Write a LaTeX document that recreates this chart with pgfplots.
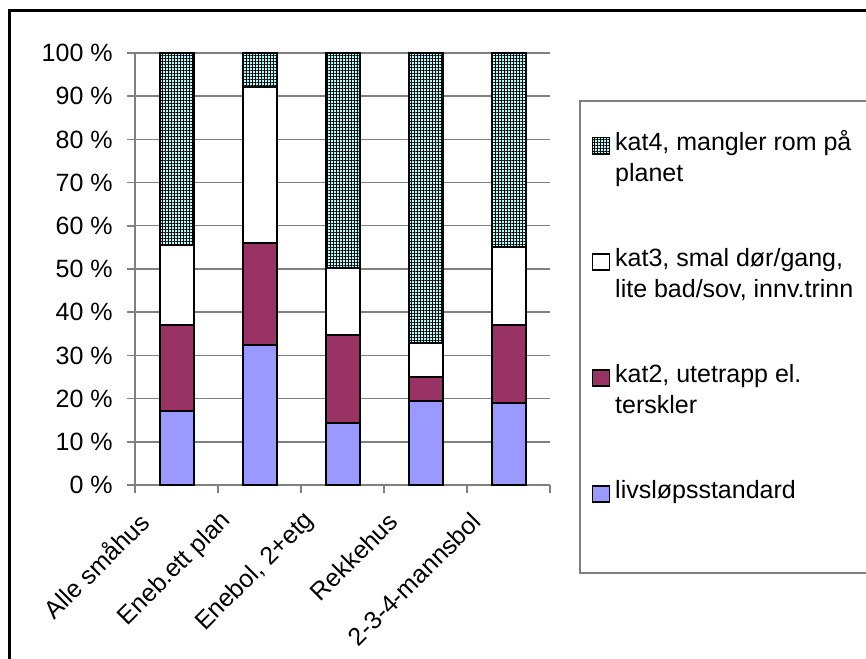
\documentclass[border=0pt]{standalone}
\usepackage{pgfplots}
\pgfplotsset{compat=1.18}
\usepackage{fontspec}
\setmainfont{Liberation Sans}
\usetikzlibrary{patterns.meta}

\definecolor{livs}{RGB}{153,153,255}
\definecolor{kattwo}{RGB}{153,51,102}
\definecolor{katfour}{RGB}{175,255,255}
\definecolor{gridgray}{RGB}{128,128,128}

% 1 px of the reference = 0.5pt
\begin{document}
\begin{tikzpicture}
\useasboundingbox (0,0) rectangle (433pt,329pt);
\clip (0,0) rectangle (433pt,329pt);
\draw[line width=1.5pt] (4.5pt,-10pt) rectangle (445pt,323.5pt);
\begin{axis}[
  at={(67.5pt,86.5pt)}, anchor=south west,
  scale only axis, width=207.5pt, height=216pt,
  ybar stacked, bar width=17pt,
  xmin=-0.5, xmax=4.5, ymin=0, ymax=100,
  axis lines*=left,
  axis line style={gridgray, line width=0.8pt},
  tick align=outside,
  ytick={0,10,...,100},
  yticklabel={\pgfmathprintnumber{\tick}~\%},
  major tick length=4pt, minor tick length=4pt,
  major y tick style={gridgray, line width=0.8pt},
  ymajorgrids, grid style={gridgray, line width=0.7pt},
  xtick={0,...,4},
  xticklabels={Alle småhus, Eneb.ett plan, {Enebol, 2+etg}, Rekkehus, 2-3-4-mannsbol},
  major x tick style={draw=none},
  minor xtick={-0.5,0.5,...,4.5},
  minor x tick style={gridgray, line width=0.8pt},
  /pgf/number format/assume math mode=true,
  tick label style={font=\fontsize{12.5}{15}\selectfont},
  yticklabel style={anchor=east, inner sep=0pt, xshift=-7pt},
  xticklabel style={anchor=east, inner sep=0pt, xshift=-16pt, yshift=-12pt, rotate=45},
  every axis plot/.append style={draw=black, line width=1pt},
  legend image code/.code={\draw[#1, line width=0.7pt] (0pt,-1.5pt) rectangle (8.5pt,6.5pt);},
  reverse legend,
  legend cell align=left,
  legend style={at={(1.0699,0.8912)}, anchor=north west,
    draw=gridgray, line width=0.8pt, inner xsep=6pt, inner ysep=2pt,
    column sep=2.5pt, font=\fontsize{12.5}{15.5}\selectfont,
    nodes={inner sep=0pt, text height=23pt, text depth=35pt, anchor=base west}},
]
\addplot[fill=livs] coordinates {(0,17.1) (1,32.4) (2,14.3) (3,19.4) (4,18.9)};
\addlegendentry{\parbox[t]{160pt}{livsløpsstandard}}
\addplot[fill=kattwo] coordinates {(0,19.9) (1,23.7) (2,20.4) (3,5.7) (4,18.1)};
\addlegendentry{\parbox[t]{160pt}{\baselineskip=15.5pt kat2, utetrapp el.\\terskler}}
\addplot[fill=white] coordinates {(0,18.5) (1,36.0) (2,15.6) (3,7.7) (4,18.0)};
\addlegendentry{\parbox[t]{160pt}{\baselineskip=15.5pt kat3, smal dør/gang,\\lite bad/sov, innv.trinn}}
\addplot[fill=katfour, postaction={pattern={Hatch[distance=1.5pt, line width=0.35pt]}, pattern color=black}]
  coordinates {(0,44.5) (1,7.9) (2,49.7) (3,67.2) (4,45.0)};
\addlegendentry{\parbox[t]{160pt}{\baselineskip=15.5pt kat4, mangler rom på\\planet}}
\end{axis}
\end{tikzpicture}
\end{document}
